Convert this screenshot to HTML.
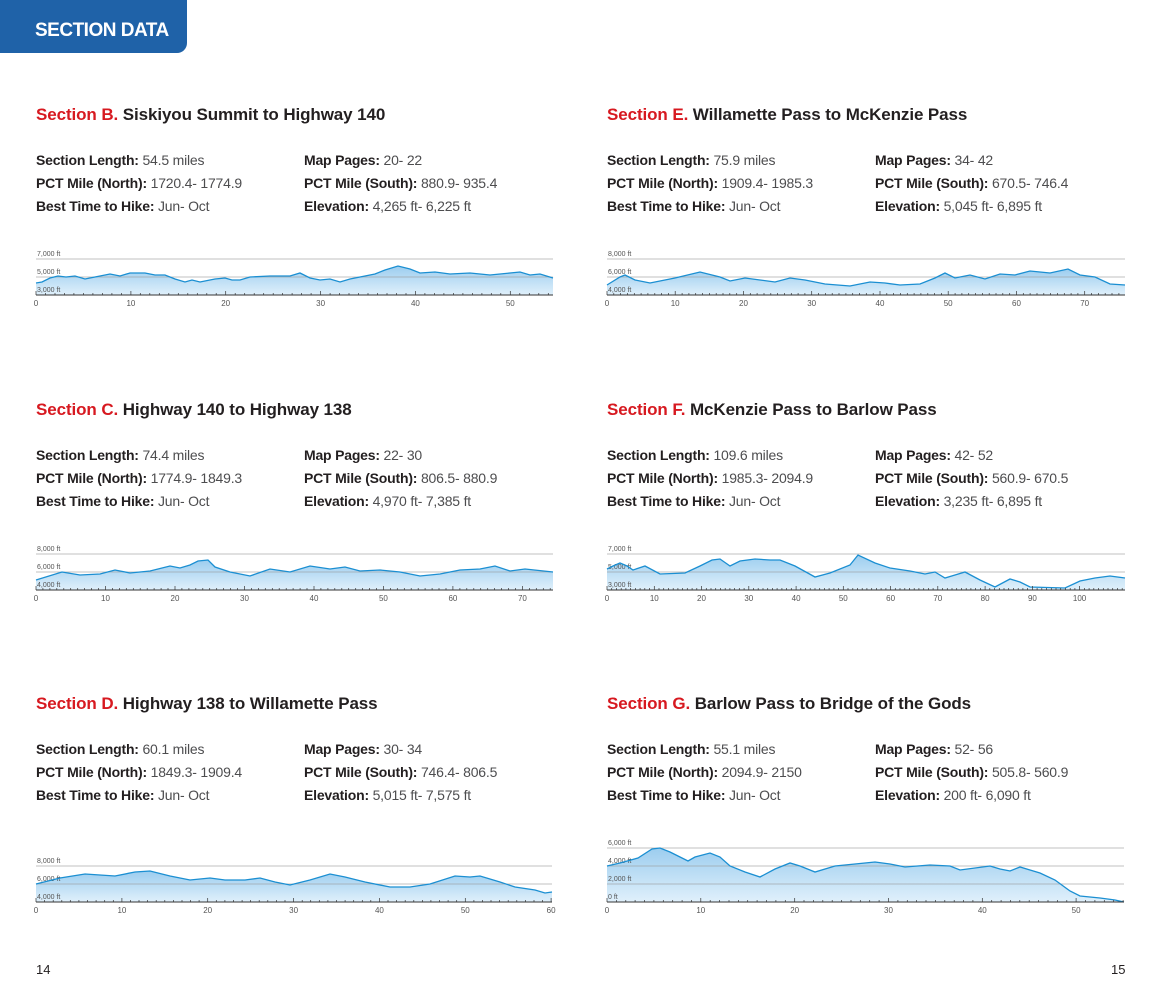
<!DOCTYPE html>
<html><head><meta charset="utf-8">
<style>
body{margin:0;width:1160px;height:1000px;background:#fff;position:relative;overflow:hidden;font-family:"Liberation Sans",sans-serif;color:#231f20}
.hdr{position:absolute;left:0;top:0;width:187px;height:53px;background:#1f62a8;border-bottom-right-radius:10px}
.hdr span{position:absolute;left:35px;top:20px;color:#fff;font-weight:bold;font-size:19px;letter-spacing:-0.5px}
.t{position:absolute;font-size:17px;font-weight:bold;white-space:nowrap;letter-spacing:-0.1px}
.t b{color:#d71920}
.i{position:absolute;font-size:14px;line-height:23px;white-space:nowrap;color:#4d4d4f;letter-spacing:-0.2px}
.i b{color:#231f20}
.pn{position:absolute;top:962px;font-size:13px;color:#231f20}
svg{position:absolute;left:0;top:0}
</style></head><body>
<div class="hdr"><span>SECTION DATA</span></div>

<div class="t" style="left:36px;top:105px"><b>Section B.</b> Siskiyou Summit to Highway 140</div>
<div class="i" style="left:36px;top:149px"><b>Section Length:</b> 54.5 miles<br><b>PCT Mile (North):</b> 1720.4- 1774.9<br><b>Best Time to Hike:</b> Jun- Oct</div>
<div class="i" style="left:304px;top:149px"><b>Map Pages:</b> 20- 22<br><b>PCT Mile (South):</b> 880.9- 935.4<br><b>Elevation:</b> 4,265 ft- 6,225 ft</div>

<div class="t" style="left:607px;top:105px"><b>Section E.</b> Willamette Pass to McKenzie Pass</div>
<div class="i" style="left:607px;top:149px"><b>Section Length:</b> 75.9 miles<br><b>PCT Mile (North):</b> 1909.4- 1985.3<br><b>Best Time to Hike:</b> Jun- Oct</div>
<div class="i" style="left:875px;top:149px"><b>Map Pages:</b> 34- 42<br><b>PCT Mile (South):</b> 670.5- 746.4<br><b>Elevation:</b> 5,045 ft- 6,895 ft</div>

<div class="t" style="left:36px;top:400px"><b>Section C.</b> Highway 140 to Highway 138</div>
<div class="i" style="left:36px;top:444px"><b>Section Length:</b> 74.4 miles<br><b>PCT Mile (North):</b> 1774.9- 1849.3<br><b>Best Time to Hike:</b> Jun- Oct</div>
<div class="i" style="left:304px;top:444px"><b>Map Pages:</b> 22- 30<br><b>PCT Mile (South):</b> 806.5- 880.9<br><b>Elevation:</b> 4,970 ft- 7,385 ft</div>

<div class="t" style="left:607px;top:400px"><b>Section F.</b> McKenzie Pass to Barlow Pass</div>
<div class="i" style="left:607px;top:444px"><b>Section Length:</b> 109.6 miles<br><b>PCT Mile (North):</b> 1985.3- 2094.9<br><b>Best Time to Hike:</b> Jun- Oct</div>
<div class="i" style="left:875px;top:444px"><b>Map Pages:</b> 42- 52<br><b>PCT Mile (South):</b> 560.9- 670.5<br><b>Elevation:</b> 3,235 ft- 6,895 ft</div>

<div class="t" style="left:36px;top:694px"><b>Section D.</b> Highway 138 to Willamette Pass</div>
<div class="i" style="left:36px;top:738px"><b>Section Length:</b> 60.1 miles<br><b>PCT Mile (North):</b> 1849.3- 1909.4<br><b>Best Time to Hike:</b> Jun- Oct</div>
<div class="i" style="left:304px;top:738px"><b>Map Pages:</b> 30- 34<br><b>PCT Mile (South):</b> 746.4- 806.5<br><b>Elevation:</b> 5,015 ft- 7,575 ft</div>

<div class="t" style="left:607px;top:694px"><b>Section G.</b> Barlow Pass to Bridge of the Gods</div>
<div class="i" style="left:607px;top:738px"><b>Section Length:</b> 55.1 miles<br><b>PCT Mile (North):</b> 2094.9- 2150<br><b>Best Time to Hike:</b> Jun- Oct</div>
<div class="i" style="left:875px;top:738px"><b>Map Pages:</b> 52- 56<br><b>PCT Mile (South):</b> 505.8- 560.9<br><b>Elevation:</b> 200 ft- 6,090 ft</div>

<div class="pn" style="left:36px">14</div>
<div class="pn" style="left:1111px">15</div>

<svg id="s" width="1160" height="1000" xmlns="http://www.w3.org/2000/svg">
<defs><linearGradient id="g" x1="0" y1="0" x2="0" y2="1"><stop offset="0" stop-color="#9ccdef"/><stop offset="1" stop-color="#e0f0fb"/></linearGradient></defs>
</svg>
<script>
var charts=[
{x0:36,x1:553,miles:54.5,base:295,labels:["7,000 ft","5,000 ft","3,000 ft"],
p:[[36,283],[42,282],[50,278],[58,276],[66,277],[75,276],[85,279],[95,277],[110,274],[120,276],[130,273],[145,273],[155,275],[165,275],[175,279],[185,282],[192,280],[200,282],[215,279],[225,278],[232,280],[240,280],[250,277],[270,276],[290,276],[300,273],[310,278],[320,280],[330,279],[340,282],[350,279],[360,277],[375,274],[385,270],[398,266],[410,269],[420,273],[435,272],[450,274],[470,273],[490,275],[510,273],[520,272],[530,275],[540,274],[553,278]]},
{x0:607,x1:1125,miles:75.9,base:295,labels:["8,000 ft","6,000 ft","4,000 ft"],
p:[[607,285],[620,277],[625,275],[635,280],[650,283],[675,278],[700,272],[720,277],[730,281],[745,278],[760,280],[775,282],[790,278],[805,280],[825,284],[850,286],[870,282],[885,283],[900,285],[920,284],[935,278],[945,273],[955,278],[970,275],[985,279],[1000,274],[1015,275],[1030,271],[1050,273],[1068,269],[1080,275],[1095,277],[1110,284],[1125,285]]},
{x0:36,x1:553,miles:74.4,base:590,labels:["8,000 ft","6,000 ft","4,000 ft"],
p:[[36,580],[62,572],[80,575],[100,574],[115,570],[130,573],[150,571],[170,566],[180,568],[190,565],[198,561],[208,560],[215,567],[230,572],[250,576],[270,569],[290,572],[310,566],[330,569],[345,567],[360,571],[380,570],[400,572],[420,576],[440,574],[460,570],[480,569],[495,566],[510,571],[525,569],[553,572]]},
{x0:607,x1:1125,miles:109.6,base:590,labels:["7,000 ft","5,000 ft","3,000 ft"],
p:[[607,569],[613,566],[620,563],[627,566],[633,570],[645,566],[660,574],[685,573],[700,566],[712,560],[720,559],[730,566],[740,561],[755,559],[770,560],[780,560],[795,566],[815,577],[830,573],[850,565],[858,555],[875,563],[890,568],[910,571],[925,574],[935,572],[945,578],[955,575],[965,572],[980,580],[995,587],[1010,579],[1020,582],[1030,587],[1065,588],[1080,581],[1095,578],[1110,576],[1125,578]]},
{x0:36,x1:552,miles:60.1,base:902,labels:["8,000 ft","6,000 ft","4,000 ft"],
p:[[36,884],[60,878],[85,874],[100,875],[115,876],[135,872],[150,871],[170,876],[190,880],[210,878],[225,880],[245,880],[260,878],[275,882],[290,885],[310,880],[330,874],[345,877],[365,882],[390,887],[410,887],[430,884],[455,876],[470,877],[480,876],[500,882],[515,887],[535,890],[545,893],[552,892]]},
{x0:607,x1:1124,miles:55.1,base:902,labels:["6,000 ft","4,000 ft","2,000 ft","0 ft"],
p:[[607,866],[620,863],[638,858],[652,849],[660,848],[670,852],[678,856],[688,861],[695,857],[710,853],[720,857],[730,866],[745,872],[760,877],[775,869],[790,863],[800,866],[815,872],[835,866],[855,864],[875,862],[890,864],[905,867],[930,865],[950,866],[960,870],[990,866],[1000,869],[1010,871],[1020,867],[1030,870],[1040,873],[1055,880],[1070,891],[1080,896],[1100,898],[1115,900],[1124,902]]}
];
var s=document.getElementById('s'),h='';
charts.forEach(function(c){
 var n=c.labels.length, b=c.base;
 var d='M'+c.p.map(function(q){return q[0]+','+q[1]}).join(' L');
 h+='<path d="'+d+' L'+c.x1+','+b+' L'+c.x0+','+b+'Z" fill="url(#g)"/>';
 for(var k=0;k<n;k++){var y=b-18*(n-1-k);
  if(k<n-1)h+='<line x1="'+c.x0+'" x2="'+c.x1+'" y1="'+y+'" y2="'+y+'" stroke="#9a9a9a" stroke-opacity="0.6" stroke-width="1"/>';
  h+='<text x="'+(c.x0+1)+'" y="'+(y-3)+'" font-size="7" fill="#555" font-family="Liberation Sans,sans-serif">'+c.labels[k]+'</text>';}
 h+='<path d="'+d+'" fill="none" stroke="#1b8fd2" stroke-width="1.3"/>';
 h+='<line x1="'+c.x0+'" x2="'+c.x1+'" y1="'+b+'" y2="'+b+'" stroke="#333" stroke-width="1"/>';
 var sc=(c.x1-c.x0)/c.miles;
 for(var m=0;m<=c.miles;m++){var x=(c.x0+m*sc).toFixed(1),L=m%10==0?4:2;
  h+='<line x1="'+x+'" x2="'+x+'" y1="'+(b-L)+'" y2="'+b+'" stroke="#333" stroke-width="0.7"/>';
  if(m%10==0)h+='<text x="'+x+'" y="'+(b+11)+'" font-size="8" fill="#555" text-anchor="middle" font-family="Liberation Sans,sans-serif">'+m+'</text>';}
});
s.insertAdjacentHTML('beforeend',h);
</script>
</body></html>
